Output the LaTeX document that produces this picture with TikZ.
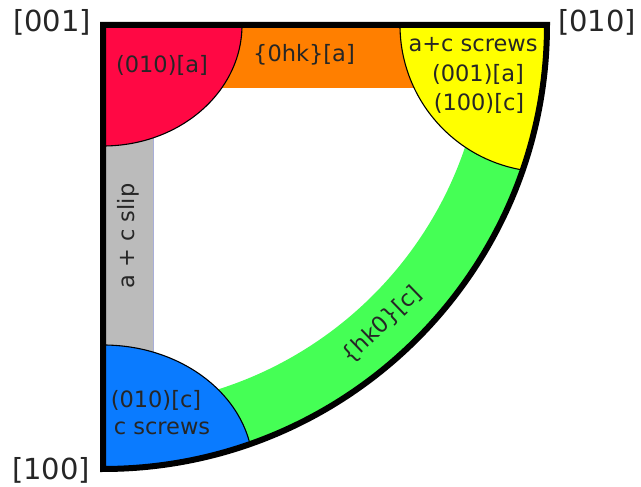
\documentclass[tikz,border=0pt]{standalone}
\usepackage{fontspec}
\setmainfont{DejaVu Sans}
\definecolor{cred}{HTML}{FF0844}
\definecolor{corange}{HTML}{FF7F00}
\definecolor{cyellow}{HTML}{FFFF00}
\definecolor{cgreen}{HTML}{45FF55}
\definecolor{cblue}{HTML}{0A7BFF}
\definecolor{cgray}{HTML}{BBBBBB}
\definecolor{cgrayedge}{HTML}{A8AED8}
\begin{document}
\begin{tikzpicture}[x=1pt,y=1pt,
  lbl/.style={font=\fontsize{22.5}{29}\selectfont, inner sep=0pt, align=center, text=black!85},
  axis/.style={font=\fontsize{29}{32}\selectfont, inner sep=0pt, text=black!85},
  edge/.style={draw=black, line width=1.1pt}]
\useasboundingbox (0,0) rectangle (641,487);
\coordinate (C) at (103,462);
\coordinate (TR) at (547,462);
\coordinate (BL) at (103,18);
\begin{scope}
  \clip (BL) -- (C) -- (TR) arc[start angle=0, end angle=-90, radius=444] -- cycle;
  % green band
  \fill[cgreen, even odd rule] (C) circle (444) (C) circle (382);
  % orange strip
  \fill[corange] (200,462) rectangle (420,399);
  % gray strip
  \filldraw[fill=cgray, draw=cgrayedge, line width=1pt] (90,130) rectangle (153,355);
  % red corner
  \filldraw[fill=cred, edge] (C) ellipse[x radius=139, y radius=121];
  % yellow corner
  \filldraw[fill=cyellow, edge] (TR) circle (147);
  % blue corner
  \filldraw[fill=cblue, edge] (BL) ellipse[x radius=150, y radius=124];
\end{scope}
% frame
\draw[line width=6pt, line join=miter] (BL) -- (C) -- (TR) arc[start angle=0, end angle=-90, radius=444] -- cycle;
% labels
\node[axis] (n001) at (52,465) {[001]};
\node[axis] (n010) at (597,465) {[010]};
\node[axis] (n100) at (51,17) {[100]};
\node[lbl] (red) at (162,422) {(010)[a]};
\node[lbl] (orange) at (304,432) {\{0hk\}[a]};
\node[lbl] (yellow1) at (473,442) {a+c screws};
\node[lbl] (yellow2) at (478,413) {(001)[a]};
\node[lbl] (yellow3) at (479,384) {(100)[c]};
\node[lbl] (blue1) at (156,87) {(010)[c]};
\node[lbl] (blue2) at (162,59) {c screws};
\node[lbl, rotate=90] (gray) at (128,251) {a + c slip};
\node[lbl, rotate=44] (green) at (382,162) {\{hk0\}[c]};
\end{tikzpicture}
\end{document}
